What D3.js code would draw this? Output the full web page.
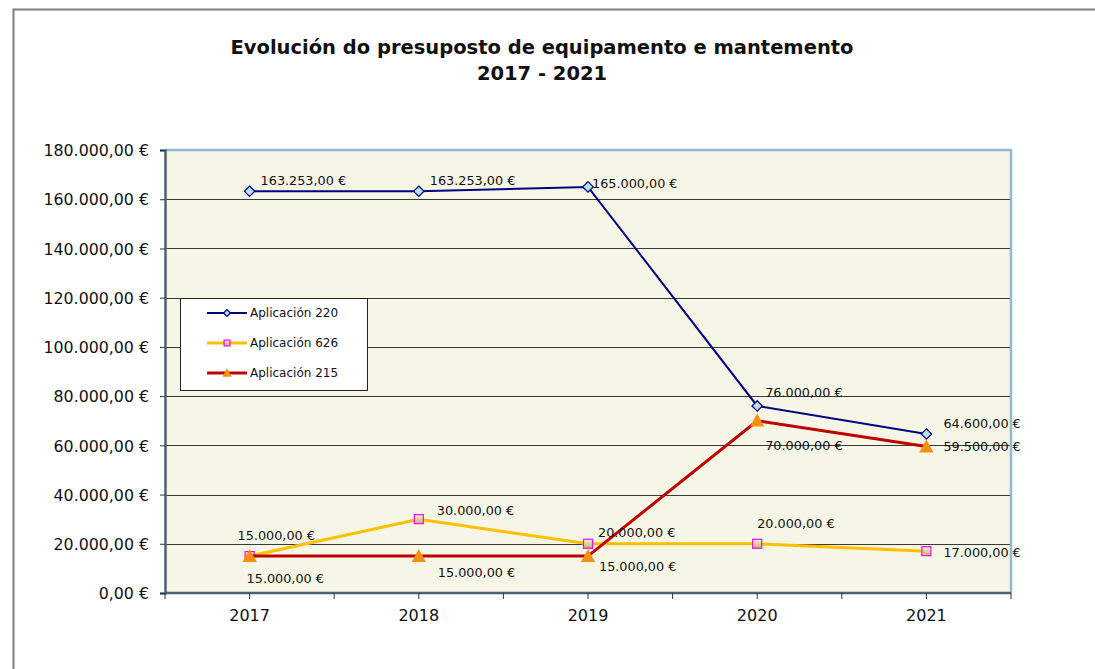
<!DOCTYPE html>
<html>
<head>
<meta charset="utf-8">
<script src="https://cdn.jsdelivr.net/npm/d3@7"></script>
<style>
  body { margin: 0; background: #fff; }
  text { font-family: "DejaVu Sans", Verdana, sans-serif; fill: #111; }
</style>
</head>
<body>
<div id="chart"></div>
<script>
var width = 1095;
var height = 669;

// data
var years = ["2017", "2018", "2019", "2020", "2021"];
var seriesNames = ["Aplicación 220", "Aplicación 626", "Aplicación 215"];
var ap220 = [163253, 163253, 165000, 76000, 64600];
var ap626 = [15000, 30000, 20000, 20000, 17000];
var ap215 = [15000, 15000, 15000, 70000, 59500];
var yTicks = [0, 20000, 40000, 60000, 80000, 100000, 120000, 140000, 160000, 180000];

// label offsets (dx, dy) per point, only styling
var off220 = [[11, -6], [11, -6], [4, 1], [8, -9], [17, -6]];
var off626 = [[-12, -16], [18, -4], [10, -7], [0, -16], [17, 6]];
var off215 = [[-3, 27], [19, 21], [11, 15], [8, 29], [17, 4]];

var margin = {left: 165, top: 150, right: 1011, bottom: 593};

var svg = d3.select("#chart").append("svg")
    .attr("width", width)
    .attr("height", height);

// outer frame
svg.append("path")
    .attr("d", "M13.5," + height + "V9.5H" + width)
    .attr("fill", "none")
    .attr("stroke", "#7f7f7f")
    .attr("stroke-width", 2);

svg.append("text")
    .attr("x", 542).attr("y", 54)
    .attr("text-anchor", "middle")
    .style("font-weight", "bold").style("font-size", "19.5px")
    .text("Evolución do presuposto de equipamento e mantemento");
svg.append("text")
    .attr("x", 542).attr("y", 80)
    .attr("text-anchor", "middle")
    .style("font-weight", "bold").style("font-size", "19.5px")
    .text("2017 - 2021");

var x = d3.scaleBand()
    .domain(years)
    .range([margin.left, margin.right]);

var y = d3.scaleLinear()
    .domain([0, 180000])
    .range([margin.bottom, margin.top]);

var fmt = d3.formatLocale({decimal: ",", thousands: ".", grouping: [3], currency: ["", " €"]});
var money = function (v) { return fmt.format(",.2f")(v) + " €"; };

// plot background
svg.append("rect")
    .attr("x", margin.left).attr("y", margin.top)
    .attr("width", margin.right - margin.left)
    .attr("height", margin.bottom - margin.top)
    .attr("fill", "#f6f6e6");

// gridlines
svg.selectAll(".grid")
    .data(yTicks.filter(function (d) { return d > 0 && d < 180000; }))
    .enter().append("line")
    .attr("x1", margin.left).attr("x2", margin.right)
    .attr("y1", function (d) { return Math.round(y(d)) + 0.5; })
    .attr("y2", function (d) { return Math.round(y(d)) + 0.5; })
    .attr("stroke", "#3a3a3a")
    .attr("stroke-width", 1);

// top / right border
svg.append("path")
    .attr("d", "M" + margin.left + "," + margin.top + "H" + margin.right + "V" + margin.bottom)
    .attr("fill", "none")
    .attr("stroke", "#8fbad6")
    .attr("stroke-width", 2.5);

// y axis
var yAxis = svg.append("g")
    .attr("transform", "translate(" + margin.left + ",0)")
    .call(d3.axisLeft(y).tickValues(yTicks).tickSize(5).tickPadding(11).tickFormat(money));
yAxis.selectAll("text").style("font-size", "15.8px").attr("dy", "0.36em");
yAxis.select(".domain").attr("stroke", "#4f6070").attr("stroke-width", 2.5);
yAxis.selectAll(".tick line").attr("stroke", "#333");

// x axis
var xAxis = svg.append("g")
    .attr("transform", "translate(0," + margin.bottom + ")")
    .call(d3.axisBottom(x).tickSize(6).tickPadding(11));
xAxis.selectAll("text").style("font-size", "16px");
xAxis.select(".domain").attr("d", "M" + margin.left + ",0H" + margin.right)
    .attr("stroke", "#4f6070").attr("stroke-width", 2.5);
xAxis.selectAll(".tick line").attr("stroke", "#333");
// boundary ticks between categories
xAxis.selectAll(".bnd")
    .data(years.concat(["end"]))
    .enter().append("line")
    .attr("x1", function (d, i) { return margin.left + i * x.step(); })
    .attr("x2", function (d, i) { return margin.left + i * x.step(); })
    .attr("y1", 0).attr("y2", 6)
    .attr("stroke", "#333");

var cx = function (d, i) { return x(years[i]) + x.bandwidth() / 2; };
var line = d3.line().x(cx).y(function (d) { return y(d); });

var series = [
    {name: seriesNames[0], values: ap220, off: off220, color: "#000080", w: 2, marker: "diamond"},
    {name: seriesNames[1], values: ap626, off: off626, color: "#ffc000", w: 3, marker: "square"},
    {name: seriesNames[2], values: ap215, off: off215, color: "#c00000", w: 3, marker: "triangle"}
];

var defs = svg.append("defs");
var grad = defs.append("linearGradient").attr("id", "sqfill")
    .attr("x1", 0).attr("y1", 0).attr("x2", 0).attr("y2", 1);
grad.append("stop").attr("offset", "0%").attr("stop-color", "#f3f3d0");
grad.append("stop").attr("offset", "100%").attr("stop-color", "#bcb66a");

function drawMarker(g, type, px, py, scale) {
    scale = scale || 1;
    if (type === "diamond") {
        g.append("path")
            .attr("d", d3.symbol().type(d3.symbolDiamond2).size(70 * scale * scale)())
            .attr("transform", "translate(" + px + "," + py + ")")
            .attr("fill", "#b9e0ea").attr("stroke", "#000080").attr("stroke-width", 1.2);
    } else if (type === "square") {
        var s = 9 * scale;
        g.append("rect")
            .attr("x", px - s / 2).attr("y", py - s / 2)
            .attr("width", s).attr("height", s)
            .attr("fill", "url(#sqfill)").attr("stroke", "#ff00ff").attr("stroke-width", 1.2);
    } else {
        var h = 13 * scale;
        g.append("path")
            .attr("d", "M" + px + "," + (py - h * 0.55) + "L" + (px + h * 0.55) + "," + (py + h * 0.45) + "L" + (px - h * 0.55) + "," + (py + h * 0.45) + "Z")
            .attr("fill", "#f7900c");
    }
}

series.forEach(function (s) {
    var g = svg.append("g");
    g.append("path")
        .datum(s.values)
        .attr("d", line)
        .attr("fill", "none")
        .attr("stroke", s.color)
        .attr("stroke-width", s.w);
    s.values.forEach(function (v, i) {
        drawMarker(g, s.marker, cx(v, i), y(v));
    });
});

// data labels
series.forEach(function (s) {
    svg.append("g").selectAll("text")
        .data(s.values)
        .enter().append("text")
        .attr("x", function (d, i) { return cx(d, i) + s.off[i][0]; })
        .attr("y", function (d, i) { return y(d) + s.off[i][1]; })
        .style("font-size", "12.8px")
        .text(money);
});

// legend
var lg = svg.append("g").attr("transform", "translate(180,298)");
lg.append("rect")
    .attr("x", 0.5).attr("y", 0.5)
    .attr("width", 187).attr("height", 92)
    .attr("fill", "#fff").attr("stroke", "#222").attr("stroke-width", 1);
series.forEach(function (s, i) {
    var ly = 15 + i * 30;
    lg.append("line")
        .attr("x1", 27).attr("x2", 67)
        .attr("y1", ly).attr("y2", ly)
        .attr("stroke", s.color).attr("stroke-width", s.w);
    drawMarker(lg, s.marker, 47, ly, 0.65);
    lg.append("text")
        .attr("x", 70).attr("y", ly)
        .attr("dy", "0.35em")
        .style("font-size", "12px")
        .text(s.name);
});
</script>
</body>
</html>
